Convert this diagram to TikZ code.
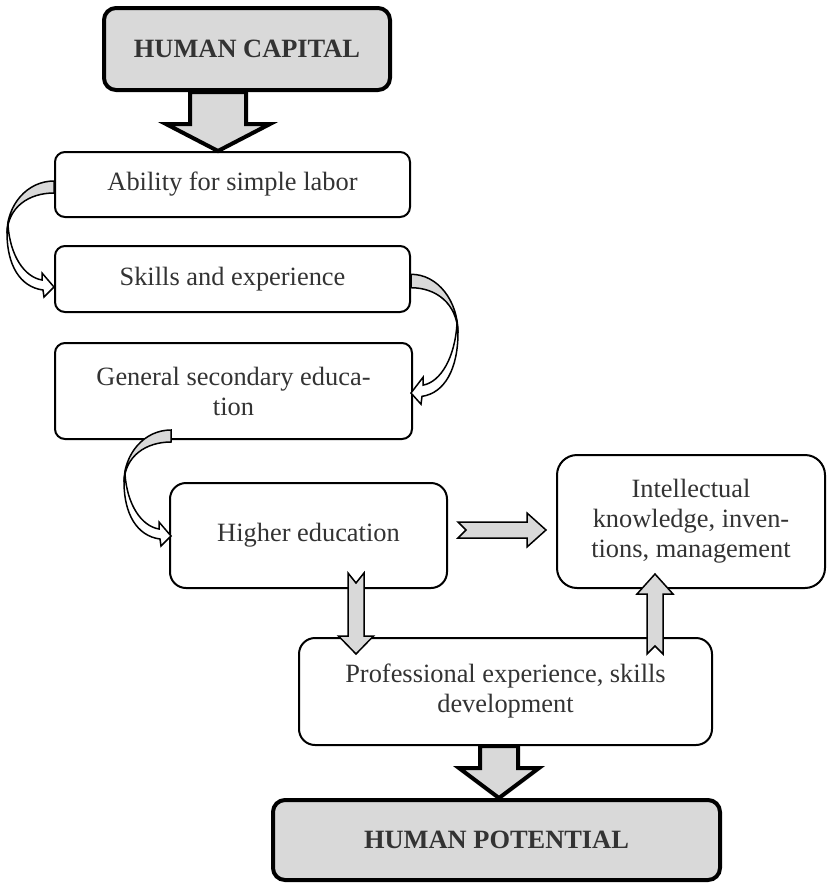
\documentclass[tikz,border=0pt]{standalone}
\usepackage{fontspec}
\setmainfont{Liberation Serif}
\usetikzlibrary{calc}
\tikzset{
  stage/.style={rectangle,rounded corners=5pt,draw=black,line width=1pt,fill=white,
                align=center,inner sep=0pt,text=black!80,font=\fontsize{13.2}{15}\selectfont},
  goal/.style={stage,rounded corners=6pt,line width=2pt,fill=gray!30,
               font=\fontsize{13.2}{15}\selectfont\bfseries},
  blk/.style={draw=black,fill=gray!30,line width=0.75pt,line join=miter},
  bend/.pic={
    \filldraw[blk] (0,-6) .. controls (-27,-6) and (-47,18) .. (-47,46)
                  .. controls (-46,20) and (-25,6) .. (0,6) -- cycle;
    \filldraw[blk,fill=white] (-46,38) .. controls (-44,68) and (-30,90) .. (-12,93)
                  -- (-12,86) -- (0,100) -- (-10,110) -- (-11,103)
                  .. controls (-34,100) and (-47,78) .. (-47,46) -- cycle;
  },
}
% block arrow: [options]{tail}{tip}{half shaft}{half head}{head length}{notch}
\newcommand\blockarrow[7][]{%
  \coordinate (ba-t) at (#2);
  \coordinate (ba-h) at (#3);
  \coordinate (ba-b) at ($(ba-h)!#6!(ba-t)$);
  \filldraw[blk,#1] ($(ba-t)!#4!90:(ba-h)$) -- ($(ba-b)!#4!90:(ba-h)$)
    -- ($(ba-b)!#5!90:(ba-h)$) -- (ba-h) -- ($(ba-b)!#5!-90:(ba-h)$)
    -- ($(ba-b)!#4!-90:(ba-h)$) -- ($(ba-t)!#4!-90:(ba-h)$)
    -- ($(ba-t)!#7!(ba-h)$) -- cycle;
}

\begin{document}
\begin{tikzpicture}[x=0.5pt,y=-0.5pt]
  \useasboundingbox (0,0) rectangle (827,884);
  % --- nodes ---
  \node[goal,minimum width=143pt,minimum height=41pt] (cap) at (247,49) {HUMAN CAPITAL};
  \node[stage,minimum width=177.5pt,minimum height=32.5pt] (ability) at (232.5,184.5) {Ability for simple labor};
  \node[stage,minimum width=177.5pt,minimum height=33pt] (skills) at (232.5,279) {Skills and experience};
  \node[stage,minimum width=178.5pt,minimum height=48pt] (general) at (233.5,391) {General secondary educa-\\tion};
  \node[stage,rounded corners=8pt,minimum width=138.5pt,minimum height=52.5pt] (higher) at (308.5,535.5) {Higher education};
  \node[stage,rounded corners=10pt,minimum width=134pt,minimum height=66.5pt] (intel) at (691,521.5)
    {\raisebox{3pt}{\begin{tabular}{@{}c@{}}Intellectual\\knowledge, inven-\\tions, management\end{tabular}}};
  \node[stage,rounded corners=8pt,minimum width=206.5pt,minimum height=53.5pt] (prof) at (505.5,691.5) {Professional experience, skills\\development};
  \node[goal,minimum width=223.5pt,minimum height=40pt] (pot) at (496.5,840) {HUMAN POTENTIAL};
  % --- block arrows ---
  \blockarrow[line width=2pt]{cap.south -| 218,0}{ability.north -| 218,0}{14pt}{26pt}{13.5pt}{0pt}
  \blockarrow[line width=2pt]{prof.south -| 499,0}{pot.north -| 499,0}{9.5pt}{20pt}{15pt}{0pt}
  \blockarrow{$(higher.south -| 356,0)+(0,-16)$}{$(prof.north -| 356,0)+(0,17)$}{4pt}{8.75pt}{9pt}{5pt}
  \blockarrow{$(prof.north -| 655,0)+(0,17)$}{$(intel.south -| 655,0)+(0,-15)$}{4pt}{9pt}{10pt}{4pt}
  \blockarrow{$(higher.east |- 0,530)+(10,0)$}{$(intel.west |- 0,530)+(-10,0)$}{4pt}{8.5pt}{9.5pt}{4pt}
  % --- curved arrows ---
  \pic at ($(ability.west)+(0,2.5)$) {bend};
  \pic[xscale=-1,yscale=1.12] at ($(skills.east)+(0,2)$) {bend};
  \pic at ($(general.south -| higher.west)+(2,-4)$) {bend};
\end{tikzpicture}
\end{document}
